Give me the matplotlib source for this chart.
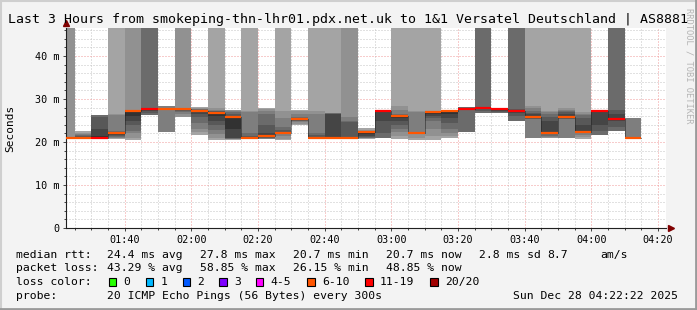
import numpy as np
import matplotlib.pyplot as plt
from matplotlib.patches import Rectangle
from matplotlib.lines import Line2D
from matplotlib.ticker import MultipleLocator, FuncFormatter

W, H = 697, 310
MONO = "DejaVu Sans Mono"

title = "Last 3 Hours from smokeping-thn-lhr01.pdx.net.uk to 1&1 Versatel Deutschland | AS8881"
graph_end = "04:22:22"
n_pings = 20

# one smokeping step every 5 minutes, labelled by the end of the step
step_end = ["01:25", "01:30", "01:35", "01:40", "01:45", "01:50", "01:55", "02:00",
            "02:05", "02:10", "02:15", "02:20", "02:25", "02:30", "02:35", "02:40",
            "02:45", "02:50", "02:55", "03:00", "03:05", "03:10", "03:15", "03:20",
            "03:25", "03:30", "03:35", "03:40", "03:45", "03:50", "03:55", "04:00",
            "04:05", "04:10", "04:15"]

# lost pings (of 20) per step
lost = [6, 6, 11, 6, 6, 11, 10, 8, 6, 6, 6, 6, 6, 6, 6, 6, 6, 6,
        6, 11, 6, 6, 6, 6, 11, 11, 11, 11, 6, 6, 6, 6, 11, 11, 6]

# received ping rtts in ms, sorted (values above ~46 ms are off the chart)
pings = [
    [20.7, 20.7, 20.75, 20.8, 20.8, 20.8, 20.85, 20.85, 20.9, 20.95, 21.0, 21.1, 58, 74],
    [20.7, 20.75, 20.8, 20.8, 20.8, 20.85, 20.85, 20.85, 21.0, 21.3, 21.6, 21.9, 22.2, 22.5],
    [20.7, 20.75, 20.8, 20.8, 20.85, 21.5, 23.0, 25.8, 26.2],
    [20.8, 20.9, 21.0, 21.2, 21.4, 21.6, 21.9, 22.2, 22.3, 22.4, 22.5, 26.3, 26.5, 63],
    [20.5, 21.0, 22.0, 22.6, 24.0, 24.8, 26.0, 27.1, 27.2, 27.25, 27.3, 27.35, 60, 82],
    [26.0, 26.3, 26.8, 27.2, 27.7, 27.8, 27.85, 27.9, 66],
    [22.3, 27.6, 27.65, 27.7, 27.7, 27.75, 27.8, 27.85, 27.9, 28.3],
    [25.8, 26.4, 27.0, 27.3, 27.45, 27.5, 27.6, 27.7, 27.8, 27.85, 27.9, 70],
    [21.7, 22.4, 23.1, 24.5, 25.9, 26.5, 27.0, 27.3, 27.4, 27.5, 27.6, 27.7, 27.9, 28.1],
    [20.5, 21.0, 21.8, 22.8, 24.0, 25.0, 26.0, 26.7, 26.9, 27.1, 27.3, 27.5, 27.8, 64],
    [20.5, 20.6, 20.7, 20.8, 20.9, 21.0, 23.0, 25.7, 26.0, 26.5, 27.0, 27.3, 27.4, 27.5],
    [20.6, 20.7, 20.75, 20.8, 20.8, 20.8, 20.85, 20.85, 21.0, 21.5, 22.1, 27.0, 27.1, 61],
    [20.6, 20.7, 20.8, 20.9, 21.0, 21.1, 21.2, 21.3, 22.0, 24.0, 26.4, 27.2, 27.6, 27.9],
    [20.5, 20.8, 21.4, 21.8, 22.0, 22.1, 22.15, 22.2, 22.3, 22.8, 23.6, 25.5, 27.1, 65],
    [24.0, 24.3, 24.6, 24.8, 25.0, 25.1, 25.2, 25.3, 25.4, 25.6, 25.8, 26.5, 27.1, 27.5],
    [20.6, 20.7, 20.75, 20.8, 20.8, 20.8, 20.85, 20.85, 21.1, 21.6, 22.1, 26.5, 27.1, 66],
    [20.6, 20.7, 20.75, 20.8, 20.8, 20.8, 20.85, 20.85, 26.5, 26.6, 26.7, 26.75, 26.8, 69],
    [20.6, 20.7, 20.75, 20.8, 20.8, 20.8, 20.85, 20.85, 21.1, 24.7, 24.8, 25.9, 57, 72],
    [20.8, 20.85, 20.9, 21.0, 21.2, 21.5, 21.9, 22.25, 22.3, 22.35, 22.4, 22.5, 22.8, 23.2],
    [20.8, 20.9, 22.0, 25.0, 27.2, 27.25, 27.3, 27.35, 27.4],
    [20.8, 21.5, 22.3, 23.1, 24.0, 25.0, 25.5, 26.0, 26.2, 26.3, 26.4, 27.5, 28.3, 62],
    [20.5, 21.0, 21.8, 21.85, 21.9, 21.95, 22.0, 22.0, 22.1, 22.2, 22.3, 27.0, 27.1, 60],
    [20.5, 21.5, 23.0, 24.8, 25.5, 26.0, 26.5, 26.9, 26.95, 27.0, 27.05, 27.1, 27.15, 68],
    [20.9, 21.3, 22.0, 23.0, 24.5, 25.5, 26.5, 27.3, 27.35, 27.4, 27.4, 27.45, 27.5, 27.5],
    [22.0, 22.3, 27.5, 27.55, 27.7, 27.75, 27.8, 27.9, 28.1],
    [26.6, 26.8, 27.3, 27.6, 27.8, 27.85, 27.9, 27.95, 63],
    [26.6, 26.8, 27.0, 27.3, 27.6, 27.65, 27.7, 27.75, 27.8],
    [24.8, 25.0, 26.0, 26.8, 27.3, 27.4, 27.5, 27.7, 66],
    [20.9, 20.95, 21.0, 25.3, 25.4, 25.5, 25.6, 25.7, 26.4, 26.8, 27.2, 27.9, 28.3, 67],
    [20.9, 21.0, 21.1, 21.5, 22.0, 22.1, 22.15, 22.2, 24.8, 25.8, 26.5, 26.9, 27.1, 64],
    [20.9, 20.95, 21.0, 25.3, 25.4, 25.5, 25.6, 25.7, 26.5, 27.0, 27.3, 27.5, 27.8, 61],
    [20.8, 21.2, 21.6, 22.0, 22.1, 22.15, 22.2, 22.25, 24.0, 25.5, 26.2, 26.6, 26.9, 70],
    [21.4, 21.7, 22.5, 24.0, 27.2, 27.25, 27.3, 27.35, 27.4],
    [22.4, 22.6, 23.5, 24.8, 25.4, 25.6, 26.5, 27.5, 64],
    [20.7, 20.75, 20.8, 20.8, 20.8, 20.85, 20.85, 20.85, 20.9, 20.95, 21.0, 25.5, 25.6, 25.6],
]

loss_labels = ["0", "1", "2", "3", "4-5", "6-10", "11-19", "20/20"]
loss_upper = [0, 1, 2, 3, 5, 10, 19, 20]
loss_colors = ["#26ff00", "#00b8ff", "#0059ff", "#7e00ff", "#ff00ff", "#ff5500", "#ff0000", "#a00000"]

legend_rows = [
    [(16, "median rtt:"), (107.3, "24.4 ms avg"), (200, "27.8 ms max"), (293.3, "20.7 ms min"),
     (386, "20.7 ms now"), (479.3, "2.8 ms sd"), (547.7, "8.7"), (600, "am/s")],
    [(16, "packet loss:"), (107.3, "43.29 % avg"), (200, "58.85 % max"), (293.3, "26.15 % min"),
     (386, "48.85 % now")],
    [(16, "loss color:")],
    [(16, "probe:"), (107.3, "20 ICMP Echo Pings (56 Bytes) every 300s"),
     (513.3, "Sun Dec 28 04:22:22 2025")],
]
legend_y = [254.7, 268.3, 282.3, 296]
swatch_x = [108.7, 145.7, 182.7, 219.3, 256, 307.3, 365.3, 430.3]


def minutes(hhmm):
    parts = [int(p) for p in hhmm.split(":")]
    return parts[0] * 60 + parts[1] + (parts[2] / 60 if len(parts) > 2 else 0)


t_end = np.array([minutes(s) for s in step_end])
t_start = t_end - 5
x_max = minutes(graph_end)
x_min = x_max - 180

fig = plt.figure(figsize=(W / 100, H / 100), dpi=100, facecolor="#f3f3f3")
ax = fig.add_axes([66 / W, 1 - 228 / H, 600 / W, 200 / H])
ax.set_facecolor("white")

# smoke: lost pings are split over both ends, then bands pair ping i with ping 21-i
half = n_pings // 2
medians = []
med_colors = []
for i in range(len(step_end)):
    rtt = pings[i]
    low_loss = lost[i] // 2
    slots = [np.nan] * low_loss + rtt + [np.nan] * (lost[i] - low_loss)
    for ibot in range(1, half + 1):
        lo, hi = slots[ibot - 1], slots[n_pings - ibot]
        if np.isnan(lo) or np.isnan(hi):
            continue
        g = int(190 / half * (half - ibot)) + 50
        ax.bar(t_start[i], hi - lo, bottom=lo, width=5, align="edge",
               color=(g / 255, g / 255, g / 255), linewidth=0, zorder=2)
    medians.append(rtt[len(rtt) // 2])
    k = next(j for j, u in enumerate(loss_upper) if lost[i] <= u)
    med_colors.append(loss_colors[k])

ax.step(np.append(t_start, t_end[-1]), medians + [medians[-1]], where="post",
        color="#202020", lw=0.72, ls=(0, (1, 1)), zorder=3)
ax.hlines(medians, t_start, t_end, colors=med_colors, lw=1.6, zorder=4)

ax.set_xlim(x_min, x_max)
ax.set_ylim(0, 200 / 4.3)
ax.xaxis.set_major_locator(MultipleLocator(20))
ax.xaxis.set_minor_locator(MultipleLocator(5))
ax.yaxis.set_major_locator(MultipleLocator(10))
ax.yaxis.set_minor_locator(MultipleLocator(2))
ax.xaxis.set_major_formatter(FuncFormatter(lambda v, p: f"{int(round(v)) // 60:02d}:{int(round(v)) % 60:02d}"))
ax.yaxis.set_major_formatter(FuncFormatter(lambda v, p: "0" if v == 0 else f"{v:.0f} m"))

ax.set_axisbelow(True)
ax.grid(which="minor", color="#c4c4c4", lw=0.72, ls=(0, (1, 2)))
ax.grid(which="major", color="#f09a9a", lw=0.72, ls=(0, (1, 2)))
ax.tick_params(which="both", direction="out", color="#404040", width=0.7)
ax.tick_params(which="major", length=2.5, labelsize=7.3, pad=2.5)
ax.tick_params(which="minor", length=1.5)
for lab in ax.get_xticklabels() + ax.get_yticklabels():
    lab.set_family(MONO)

for s in ["top", "right"]:
    ax.spines[s].set_visible(False)
ax.spines["left"].set_color("#202020")
ax.spines["bottom"].set_color("#202020")
ax.spines["left"].set_linewidth(0.8)
ax.spines["bottom"].set_linewidth(0.8)
ax.plot([0], [1.025], marker="^", color="#800000", ms=4.5, transform=ax.transAxes, clip_on=False)
ax.plot([1.008], [0], marker=">", color="#800000", ms=4.5, transform=ax.transAxes, clip_on=False)

fig.text(8 / W, 1 - 19.3 / H, title, family=MONO, fontsize=9.5, va="center")
fig.text(10 / W, 1 - 128 / H, "Seconds", family=MONO, fontsize=8, rotation=90,
         va="center", ha="center")
fig.text(689 / W, 1 - 8 / H, "RRDTOOL / TOBI OETIKER", family=MONO, fontsize=6.3,
         rotation=270, va="top", ha="center", color="#b4b4b4")

for row, y in zip(legend_rows, legend_y):
    for x, txt in row:
        fig.text(x / W, 1 - y / H, txt, family=MONO, fontsize=8.2, va="center")

for x, lab, col in zip(swatch_x, loss_labels, loss_colors):
    fig.add_artist(Rectangle((x / W, 1 - 286 / H), 7.3 / W, 7.7 / H, facecolor=col,
                             edgecolor="black", lw=0.8, transform=fig.transFigure))
    fig.text((x + 14.5) / W, 1 - 282.3 / H, lab, family=MONO, fontsize=8.2, va="center")

# 3d-ish frame round the image
fig.add_artist(Line2D([0, 1], [1 - 0.5 / H, 1 - 0.5 / H], color="#cfcfcf", lw=1.5, transform=fig.transFigure))
fig.add_artist(Line2D([0.5 / W, 0.5 / W], [0, 1], color="#cfcfcf", lw=1.5, transform=fig.transFigure))
fig.add_artist(Line2D([0, 1], [1 / H, 1 / H], color="#9a9a9a", lw=2, transform=fig.transFigure))
fig.add_artist(Line2D([1 - 1 / W, 1 - 1 / W], [0, 1], color="#9a9a9a", lw=2, transform=fig.transFigure))

fig.savefig("out.png", dpi=100, facecolor=fig.get_facecolor())
